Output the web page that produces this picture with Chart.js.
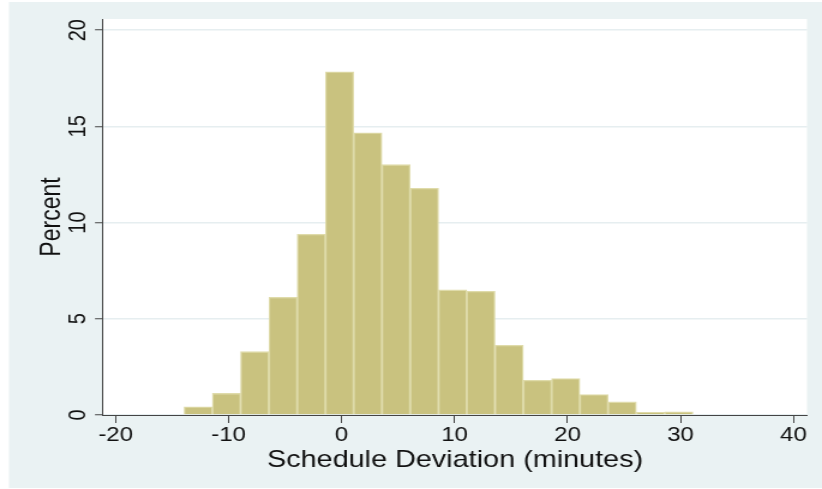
<!DOCTYPE html>
<html>
<head>
<meta charset="utf-8">
<script src="https://cdn.jsdelivr.net/npm/chart.js@4/dist/chart.umd.min.js"></script>
<style>
  html, body { margin: 0; padding: 0; background: #fff; }
  canvas { display: block; }
</style>
</head>
<body>
<!-- drawn at 685px wide, shown stretched to 822px (wide Stata-style lettering) -->
<canvas id="hist" width="685" height="489" style="width:822px;height:489px"></canvas>
<script>
// histogram bins (centre, minutes) and share of trips (%)
const binCenters = [-12.69, -10.19, -7.69, -5.18, -2.68, -0.18, 2.32, 4.82, 7.33,
                    9.83, 12.33, 14.83, 17.34, 19.84, 22.34, 24.84, 27.35, 29.85];
const percents = [0.43, 1.12, 3.29, 6.12, 9.39, 17.84, 14.67, 13.01, 11.78,
                  6.50, 6.43, 3.62, 1.80, 1.89, 1.06, 0.68, 0.14, 0.16];
const xTicks = [-20, -10, 0, 10, 20, 30, 40];
const yTicks = [0, 5, 10, 15, 20];

const SX = 822 / 685;               // horizontal stretch of the canvas
const FONT = 'Helvetica, Arial, "Liberation Sans", sans-serif';
const PANEL = '#eaf2f3';
const INK = '#111111';
const AXIS = '#444444';

// light bluish-grey panel with a white plot region
const backdrop = {
  id: 'backdrop',
  beforeDraw(chart) {
    const { ctx, chartArea: a } = chart;
    ctx.save();
    ctx.fillStyle = '#ffffff';
    ctx.fillRect(0, 0, chart.width, chart.height);
    ctx.fillStyle = PANEL;
    ctx.fillRect(9 / SX, 2, chart.width, chart.height - 3);
    ctx.fillStyle = '#ffffff';
    ctx.fillRect(a.left, a.top, a.right - a.left, a.bottom - a.top);
    ctx.restore();
  }
};

new Chart(document.getElementById('hist'), {
  type: 'bar',
  data: {
    datasets: [{
      data: binCenters.map((x, i) => ({ x, y: percents[i] })),
      backgroundColor: '#c9c27f',
      borderColor: '#dfdbaa',
      borderWidth: 1.3,
      barPercentage: 1,
      categoryPercentage: 1,
    }],
  },
  options: {
    responsive: false,
    devicePixelRatio: 1,
    animation: false,
    layout: { padding: { top: 19, right: 685 - 807 / SX, bottom: 0, left: 0 } },
    plugins: { legend: { display: false }, tooltip: { enabled: false } },
    scales: {
      x: {
        type: 'linear',
        offset: false,
        min: -21.12,
        max: 41.2,
        afterBuildTicks: s => { s.ticks = xTicks.map(v => ({ value: v })); },
        afterFit: s => { s.height = 74; s.paddingLeft = 0; s.paddingRight = 0; },
        grid: { offset: false, drawOnChartArea: false, tickLength: 8, tickColor: AXIS, tickWidth: 1 },
        border: { display: true, color: AXIS, width: 1 },
        ticks: { autoSkip: false, maxRotation: 0, padding: 0, color: INK, font: { family: FONT, size: 20 } },
        title: {
          display: true, text: 'Schedule Deviation (minutes)', color: INK,
          font: { family: FONT, size: 24 }, padding: { top: 0, bottom: 14 },
        },
      },
      y: {
        min: 0,
        max: 20.58,
        afterBuildTicks: s => { s.ticks = yTicks.map(v => ({ value: v })); },
        afterFit: s => { s.width = 103 / SX; s.paddingTop = 0; s.paddingBottom = 0; },
        grid: { color: '#e6eef0', lineWidth: 1.5, tickLength: 8 / SX, tickColor: AXIS, tickWidth: 1 },
        border: { display: true, color: AXIS, width: 1 },
        ticks: {
          minRotation: 90, maxRotation: 90, crossAlign: 'center', padding: 3,
          color: INK, font: { family: FONT, size: 20 },
        },
        title: {
          display: true, text: 'Percent', color: INK,
          font: { family: FONT, size: 23 }, padding: { top: 30, bottom: 0 },
        },
      },
    },
  },
  plugins: [backdrop],
});
</script>
</body>
</html>
